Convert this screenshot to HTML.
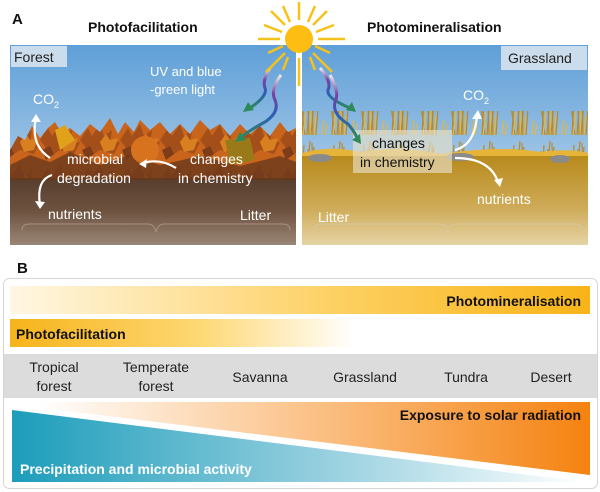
<!DOCTYPE html>
<html><head><meta charset="utf-8"><style>
body{margin:0;background:#fff;}
svg{display:block;font-family:"Liberation Sans",Arial,sans-serif;}
</style></head><body>
<svg width="600" height="492" viewBox="0 0 600 492" xmlns="http://www.w3.org/2000/svg">
<defs>
<linearGradient id="sky" x1="0" y1="0" x2="0" y2="1"><stop offset="0" stop-color="#5f9fd8"/><stop offset="1" stop-color="#cde0ef"/></linearGradient>
<linearGradient id="soil" x1="0" y1="0" x2="0" y2="1"><stop offset="0" stop-color="#4a3222"/><stop offset="0.6" stop-color="#6e5240"/><stop offset="1" stop-color="#9a8676"/></linearGradient>
<linearGradient id="sand" x1="0" y1="0" x2="0" y2="1"><stop offset="0" stop-color="#b88a1c"/><stop offset="0.6" stop-color="#cfac5a"/><stop offset="1" stop-color="#e6d4a6"/></linearGradient>
<linearGradient id="pm" x1="0" y1="0" x2="1" y2="0"><stop offset="0" stop-color="#fff7e4"/><stop offset="0.55" stop-color="#fdd165"/><stop offset="1" stop-color="#f8b417"/></linearGradient>
<linearGradient id="pf" x1="0" y1="0" x2="1" y2="0"><stop offset="0" stop-color="#f7b31a"/><stop offset="0.55" stop-color="#fdd874"/><stop offset="1" stop-color="#ffffff"/></linearGradient>
<linearGradient id="or" x1="0" y1="0" x2="1" y2="0"><stop offset="0.05" stop-color="#fff"/><stop offset="0.5" stop-color="#fbc48c"/><stop offset="1" stop-color="#f58210"/></linearGradient>
<linearGradient id="bl" x1="0" y1="0" x2="1" y2="0"><stop offset="0" stop-color="#1c9dbb"/><stop offset="0.5" stop-color="#8ccbdc"/><stop offset="1" stop-color="#ffffff"/></linearGradient>
<linearGradient id="wv" x1="0" y1="0" x2="0" y2="1"><stop offset="0" stop-color="#eee"/><stop offset="0.3" stop-color="#7b3fa0"/><stop offset="0.65" stop-color="#2a5fb5"/><stop offset="1" stop-color="#2e8a5a"/></linearGradient>
<pattern id="grass" x="0" y="0" width="30" height="45" patternUnits="userSpaceOnUse">
<g stroke="#b8892a" stroke-width="1.2" fill="none">
<path d="M2 45 L4 10"/><path d="M5 45 L1 16"/><path d="M7 45 L10 6"/><path d="M9 45 L8 14"/><path d="M11 45 L14 12"/><path d="M13 45 L12 8"/><path d="M16 45 L18 18"/>
</g>
<g stroke="#e9b53a" stroke-width="1.2" fill="none"><path d="M3 45 L6 22"/><path d="M10 45 L11 20"/><path d="M14 45 L16 26"/><path d="M22 45 L24 30"/><path d="M25 45 L27 34"/></g>
</pattern>
<pattern id="leaf" x="0" y="0" width="40" height="40" patternUnits="userSpaceOnUse">
<rect width="40" height="40" fill="#c8641c"/>
<path d="M0 20 L8 8 L12 16 L20 4 L24 16 L32 10 L30 24 L40 22 L34 34 L20 30 L8 38 L6 28Z" fill="#a44e1a"/>
<path d="M20 22 L26 14 L30 20 L38 18 L34 30 L24 32Z" fill="#d8801f"/>
<path d="M2 30 L10 26 L14 34 L6 40Z" fill="#7e3c19"/>
</pattern>
</defs>
<rect x="10" y="45" width="286" height="200" fill="url(#sky)"/>
<rect x="10" y="160" width="286" height="85" fill="url(#soil)"/>
<path d="M10 150 L18 136 L25 140 L32 126 L40 138 L48 128 L55 122 L62 134 L70 128 L80 136 L90 124 L100 132 L110 118 L118 134 L125 122 L134 132 L140 120 L150 130 L160 122 L170 134 L180 124 L190 134 L200 120 L210 130 L220 124 L230 136 L240 124 L250 134 L260 126 L270 136 L280 122 L288 132 L296 128 L296 178 L10 178Z" fill="url(#leaf)"/>
<path d="M10 165 L30 155 L50 162 L70 152 L100 165 L130 155 L160 165 L200 156 L240 166 L280 156 L296 162 L296 180 L10 180Z" fill="#6a381c" opacity="0.8"/>
<circle cx="145" cy="150" r="14" fill="#d7731f"/>
<path d="M55 130 L65 125 L75 140 L60 150Z" fill="#e0a21a"/>
<path d="M225 140 L250 138 L255 160 L230 165Z" fill="#9a7a18"/>
<rect x="11" y="46" width="56" height="21" fill="#cbdcec"/>
<text x="14" y="62" font-size="14" fill="#222">Forest</text>
<text x="150" y="76" font-size="13" fill="#fff">UV and blue</text>
<text x="150" y="94" font-size="13" fill="#fff">-green light</text>
<text x="33" y="104" font-size="14" fill="#fff">CO<tspan font-size="9" dy="4">2</tspan></text>
<g fill="#fff" font-size="14">
<text x="67" y="164">microbial</text><text x="57" y="183">degradation</text>
<text x="190" y="164">changes</text><text x="178" y="183">in chemistry</text>
<text x="48" y="219">nutrients</text><text x="240" y="220">Litter</text>
</g>
<g stroke="#fff" stroke-width="2.2" fill="none">
<path d="M50 158 Q30 145 36 118"/><path d="M52 175 Q36 180 40 205"/><path d="M176 168 Q160 158 143 163"/>
</g>
<g fill="#fff"><path d="M36 114 L31 122 L41 122Z"/><path d="M40 209 L35 201 L45 202Z"/><path d="M139 164 L147 159 L146 168Z"/></g>
<path d="M22 230 Q22 224 30 224 L148 224 Q154 224 156 232 Q158 224 164 224 L282 224 Q290 224 290 230" stroke="#a89080" fill="none"/>
<rect x="302" y="45" width="286" height="200" fill="url(#sky)"/>
<rect x="302" y="111" width="286" height="45" fill="url(#grass)"/>
<path d="M302 153 Q330 145 360 152 Q400 145 440 154 Q500 145 540 152 Q570 148 588 153 L588 160 L302 160Z" fill="#e7b43a"/>
<rect x="302" y="156" width="286" height="89" fill="url(#sand)"/>
<ellipse cx="320" cy="158" rx="12" ry="4" fill="#8a8a8a"/><ellipse cx="460" cy="157" rx="14" ry="4" fill="#8a8a8a"/><ellipse cx="560" cy="159" rx="10" ry="4" fill="#8a8a8a"/>
<rect x="501" y="46" width="86" height="24" fill="#cbdcec"/>
<text x="508" y="63" font-size="14" fill="#222">Grassland</text>
<rect x="353" y="130" width="99" height="43" fill="#e8e0c8" opacity="0.65"/>
<text x="372" y="148" font-size="14" fill="#111">changes</text>
<text x="360" y="167" font-size="14" fill="#111">in chemistry</text>
<text x="463" y="100" font-size="14" fill="#fff">CO<tspan font-size="9" dy="4">2</tspan></text>
<text x="477" y="204" font-size="14" fill="#fff">nutrients</text>
<text x="318" y="222" font-size="14" fill="#fff">Litter</text>
<g stroke="#fff" stroke-width="2.2" fill="none"><path d="M455 150 Q475 145 477 115"/><path d="M455 158 Q490 158 498 182"/></g>
<g fill="#fff"><path d="M478 110 L472 119 L482 119Z"/><path d="M500 187 L494 180 L503 178Z"/></g>
<path d="M314 230 Q314 224 322 224 L440 224 Q446 224 448 232 Q450 224 456 224 L574 224 Q582 224 582 230" stroke="#d8c8a0" fill="none"/>
<g fill="none" stroke="url(#wv)" stroke-width="3">
<path d="M270 68 Q262 80 265 88 Q268 96 250 108"/>
<path d="M281 75 Q270 90 275 100 Q280 112 265 122 Q250 130 240 138"/>
<path d="M320 68 Q332 82 328 90 Q326 98 350 108"/>
<path d="M330 75 Q340 92 335 102 Q332 114 348 124 Q355 132 358 140"/>
</g>
<g fill="#2e8a5a"><path d="M243 112 L248 102 L254 110Z"/><path d="M235 142 L240 132 L246 140Z"/><path d="M356 112 L346 110 L352 102Z"/><path d="M361 144 L352 140 L360 134Z"/></g>
<rect x="296" y="60" width="6" height="190" fill="#fff"/>
<g stroke="#f5c21a" stroke-width="2.5">
<path d="M299 2 V20 M299 58 V86 M258 39 H280 M318 39 H345 M271 11 L285 25 M313 53 L332 72 M327 11 L313 25 M285 53 L266 72 M283 6 L290 22 M315 6 L308 22 M264 25 L282 32 M334 25 L316 32 M268 53 L283 46 M330 53 L315 46 M288 57 L283 70 M310 57 L315 70"/>
</g>
<circle cx="299" cy="39" r="14" fill="#fdbd12"/>
<text x="12" y="24" font-size="15" font-weight="bold" fill="#111">A</text>
<text x="88" y="32" font-size="14" font-weight="bold" fill="#111">Photofacilitation</text>
<text x="367" y="32" font-size="14" font-weight="bold" fill="#111">Photomineralisation</text>
<text x="17" y="273" font-size="15" font-weight="bold" fill="#111">B</text>
<rect x="3.5" y="278.5" width="594" height="210" rx="6" fill="#fff" stroke="#d5d5d5"/>
<rect x="10" y="286" width="580" height="28" fill="url(#pm)"/>
<text x="581" y="306" font-size="14" font-weight="bold" fill="#111" text-anchor="end">Photomineralisation</text>
<rect x="10" y="319" width="345" height="28" fill="url(#pf)"/>
<text x="16" y="339" font-size="14" font-weight="bold" fill="#111">Photofacilitation</text>
<rect x="4" y="354" width="593" height="44" fill="#dcdcdc"/>
<g font-size="14" fill="#222" text-anchor="middle">
<text x="54" y="372">Tropical</text><text x="54" y="391">forest</text>
<text x="156" y="372">Temperate</text><text x="156" y="391">forest</text>
<text x="260" y="382">Savanna</text><text x="365" y="382">Grassland</text>
<text x="466" y="382">Tundra</text><text x="551" y="382">Desert</text>
</g>
<polygon points="10,402 590,402 590,475 10,404" fill="url(#or)"/>
<polygon points="12,410 585,482 12,482" fill="url(#bl)"/>
<text x="581" y="420" font-size="14" font-weight="bold" fill="#111" text-anchor="end">Exposure to solar radiation</text>
<text x="20" y="474" font-size="14" font-weight="bold" fill="#fff">Precipitation and microbial activity</text>
</svg>
</body></html>
